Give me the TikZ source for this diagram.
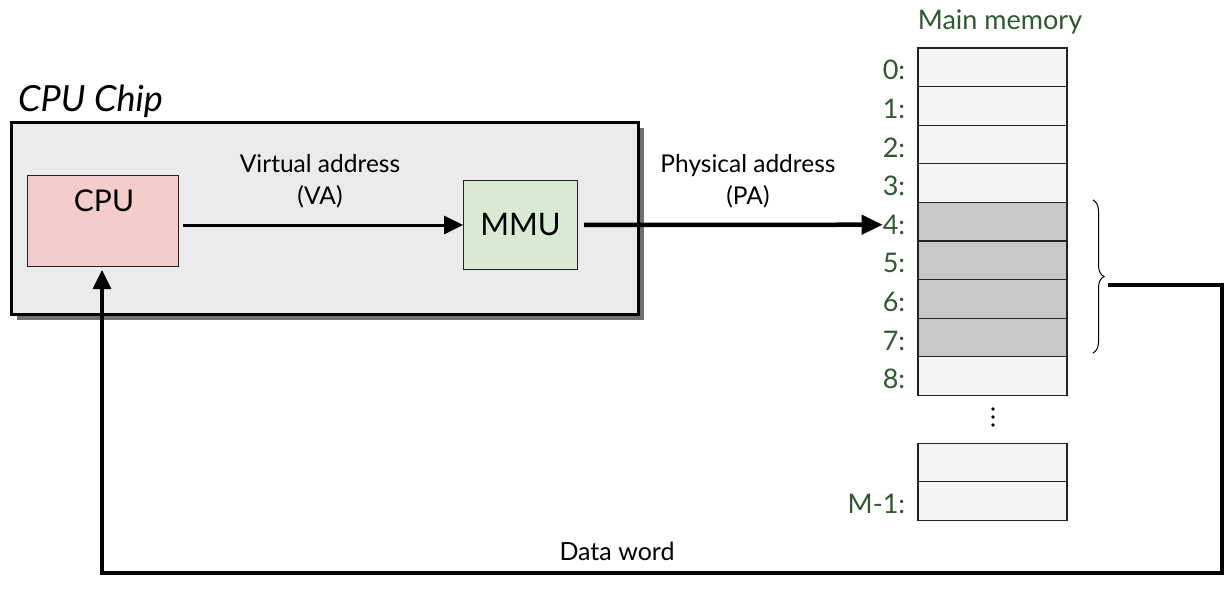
\documentclass[tikz,border=0pt]{standalone}
\usepackage{fontspec}
\setmainfont{Lato}
\usetikzlibrary{arrows.meta,shadows,decorations.pathreplacing}
\definecolor{chipfill}{HTML}{EBEBEB}
\definecolor{cpufill}{HTML}{F4CCCC}
\definecolor{mmufill}{HTML}{D9EAD3}
\definecolor{cellfill}{HTML}{F4F4F4}
\definecolor{cellgray}{HTML}{C8C7C5}
\definecolor{memgreen}{HTML}{2E5A2C}
\definecolor{edge}{HTML}{222222}
\begin{document}
\begin{tikzpicture}[x=1pt,y=-1pt,
  chipbox/.style={draw=black,line width=3pt,fill=chipfill,
    drop shadow={shadow xshift=5pt,shadow yshift=-5pt,fill=black!75,opacity=0.75}},
  unitbox/.style={draw=edge,line width=1pt,inner sep=0pt},
  cellbox/.style={draw=edge,line width=1.2pt,fill=cellfill,minimum width=149pt,minimum height=38.6pt,inner sep=0pt},
  graycell/.style={cellbox,fill=cellgray},
  addrlbl/.style={text=memgreen,font=\fontsize{27}{27}\selectfont,anchor=east,inner sep=0pt},
  lbl/.style={font=\fontsize{24.5}{32}\selectfont,align=center},
  arr/.style={line width=3pt,-{Triangle[length=19pt,width=18pt]}},
  arrthick/.style={line width=4.5pt,-{Triangle[length=21pt,width=19pt]}},
  dataline/.style={line width=3.5pt},
]
\useasboundingbox (0,0) rectangle (1227,603);
% chip
\node[chipbox,minimum width=627pt,minimum height=192pt,anchor=north west,inner sep=0pt] (chip) at (10,121) {};
\node[anchor=base west,font=\itshape\fontsize{36}{36}\selectfont,inner sep=0pt] (chiplbl) at (18,111) {CPU Chip};
\node[unitbox,fill=cpufill,minimum width=151pt,minimum height=91pt,anchor=north west] (cpu) at (27,175) {};
\node[font=\fontsize{30}{30}\selectfont] (cputxt) at (104,201) {CPU};
\node[unitbox,fill=mmufill,minimum width=114pt,minimum height=89pt,anchor=north west,font=\fontsize{31}{31}\selectfont] (mmu) at (463,180) {MMU};
\node[lbl] (va) at (320,181) {Virtual address\\(VA)};
\node[lbl] (pa) at (748,181) {Physical address\\(PA)};
% memory
\node[text=memgreen,font=\fontsize{27}{27}\selectfont] (mmtitle) at (1000,22) {Main memory};
\foreach \i in {0,...,8}{
  \ifnum\i>3 \ifnum\i<8 \def\st{graycell}\else\def\st{cellbox}\fi\else\def\st{cellbox}\fi
  \node[\st] (m\i) at (992.5,{67.3+38.6*\i}) {};
  \node[addrlbl] (l\i) at ([xshift=-12pt,yshift=-3pt]m\i.west) {\i:};
}
\node[cellbox] (mA) at (992.5,462.5) {};
\node[cellbox] (mB) at (992.5,501) {};
\node[addrlbl] (lM) at ([xshift=-12pt,yshift=-3pt]mB.west) {M-1:};
\foreach \yy in {409,417,425} \fill (993,\yy) circle (1.8pt);
% brace
\coordinate (bt0) at (1093,200);
\coordinate (bt1) at (1093,353);
\draw[line width=1pt,decorate,decoration={brace,amplitude=11pt}] (bt0) -- (bt1);
\coordinate (bt) at (1108,285);
\coordinate (r1) at (1222,285);
\coordinate (r2) at (1222,573);
\coordinate (l2) at (102,573);
% connectors
\draw[arr,shorten <=4pt] (cpu.east |- mmu.west) -- (mmu.west);
\draw[arrthick,shorten <=6pt] (mmu.east) -- (l4.west);
\draw[dataline,line join=miter] (bt) -- (r1) -- (r2) -- (l2) -- ([yshift=-10pt]l2 |- cpu.south);
\draw[arr] (l2) -- ([yshift=-3pt]l2 |- cpu.south);
\node[font=\fontsize{25}{25}\selectfont] (dw) at (617,551) {Data word};
\end{tikzpicture}
\end{document}
